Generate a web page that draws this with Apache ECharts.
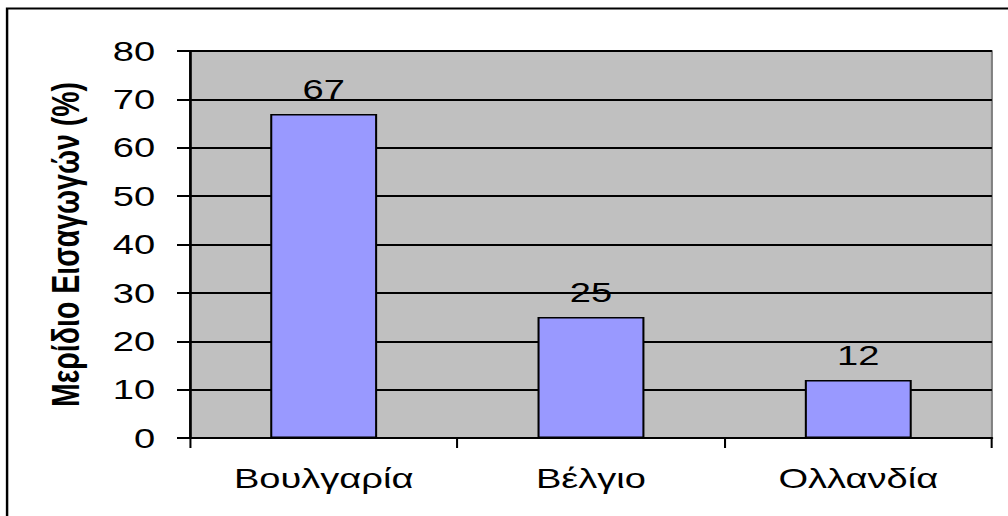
<!DOCTYPE html>
<html>
<head>
<meta charset="utf-8">
<script src="https://cdn.jsdelivr.net/npm/echarts@6/dist/echarts.min.js"></script>
<style>
  html, body { margin: 0; padding: 0; background: #fff; overflow: hidden; }
  /* the reference is a horizontally stretched Excel chart: draw narrow, stretch in x */
  #chart { width: 741px; height: 516px; transform: scaleX(1.3603); transform-origin: 0 0; }
</style>
</head>
<body>
<div id="chart"></div>
<script>
var countries = ['Βουλγαρία', 'Βέλγιο', 'Ολλανδία'];
var shares = [67, 25, 12];
var yTicks = [0, 10, 20, 30, 40, 50, 60, 70, 80];

var chart = echarts.init(document.getElementById('chart'), null, { renderer: 'svg' });
var font = 'Liberation Sans, Arial, sans-serif';

var option = {
    backgroundColor: '#fff',
    animation: false,
    // chart frame: only the top and left edges are inside the picture
    graphic: [{
        type: 'polyline',
        shape: { points: [[5.2, 520], [5.2, 8.5], [745, 8.5]] },
        style: { fill: 'none', stroke: '#000', lineWidth: 1.8 },
        z: 100
    }],
    grid: {
        left: 139.7, top: 51, right: 11.8, bottom: 78,
        show: true,
        backgroundColor: '#C0C0C0',
        borderColor: '#808080',
        borderWidth: 1.5
    },
    xAxis: {
        type: 'category',
        data: countries,
        axisLine: { lineStyle: { color: '#000', width: 2 } },
        axisTick: { show: true, length: 10, lineStyle: { color: '#000', width: 1.5 } },
        axisLabel: { color: '#000', fontSize: 28, fontFamily: font, margin: 26 }
    },
    yAxis: {
        type: 'value',
        min: yTicks[0],
        max: yTicks[yTicks.length - 1],
        interval: 10,
        name: 'Μερίδιο Εισαγωγών (%)',
        nameLocation: 'middle',
        nameGap: 77,
        nameTextStyle: { color: '#000', fontSize: 28.5, fontWeight: 'bold', fontFamily: font },
        axisLine: { show: true, lineStyle: { color: '#000', width: 2 } },
        axisTick: { show: true, length: 9.6, lineStyle: { color: '#000', width: 2 } },
        axisLabel: { color: '#000', fontSize: 28, fontFamily: font, margin: 25.7 },
        splitLine: { show: true, lineStyle: { color: '#000', width: 2 } }
    },
    series: [{
        type: 'bar',
        data: shares,
        barWidth: '40%',
        itemStyle: { color: '#9999FF', borderColor: '#000', borderWidth: 1.5 },
        label: {
            show: true,
            position: 'top',
            distance: 11,
            color: '#000',
            fontSize: 28,
            fontFamily: font
        }
    }]
};

chart.setOption(option);
</script>
</body>
</html>
